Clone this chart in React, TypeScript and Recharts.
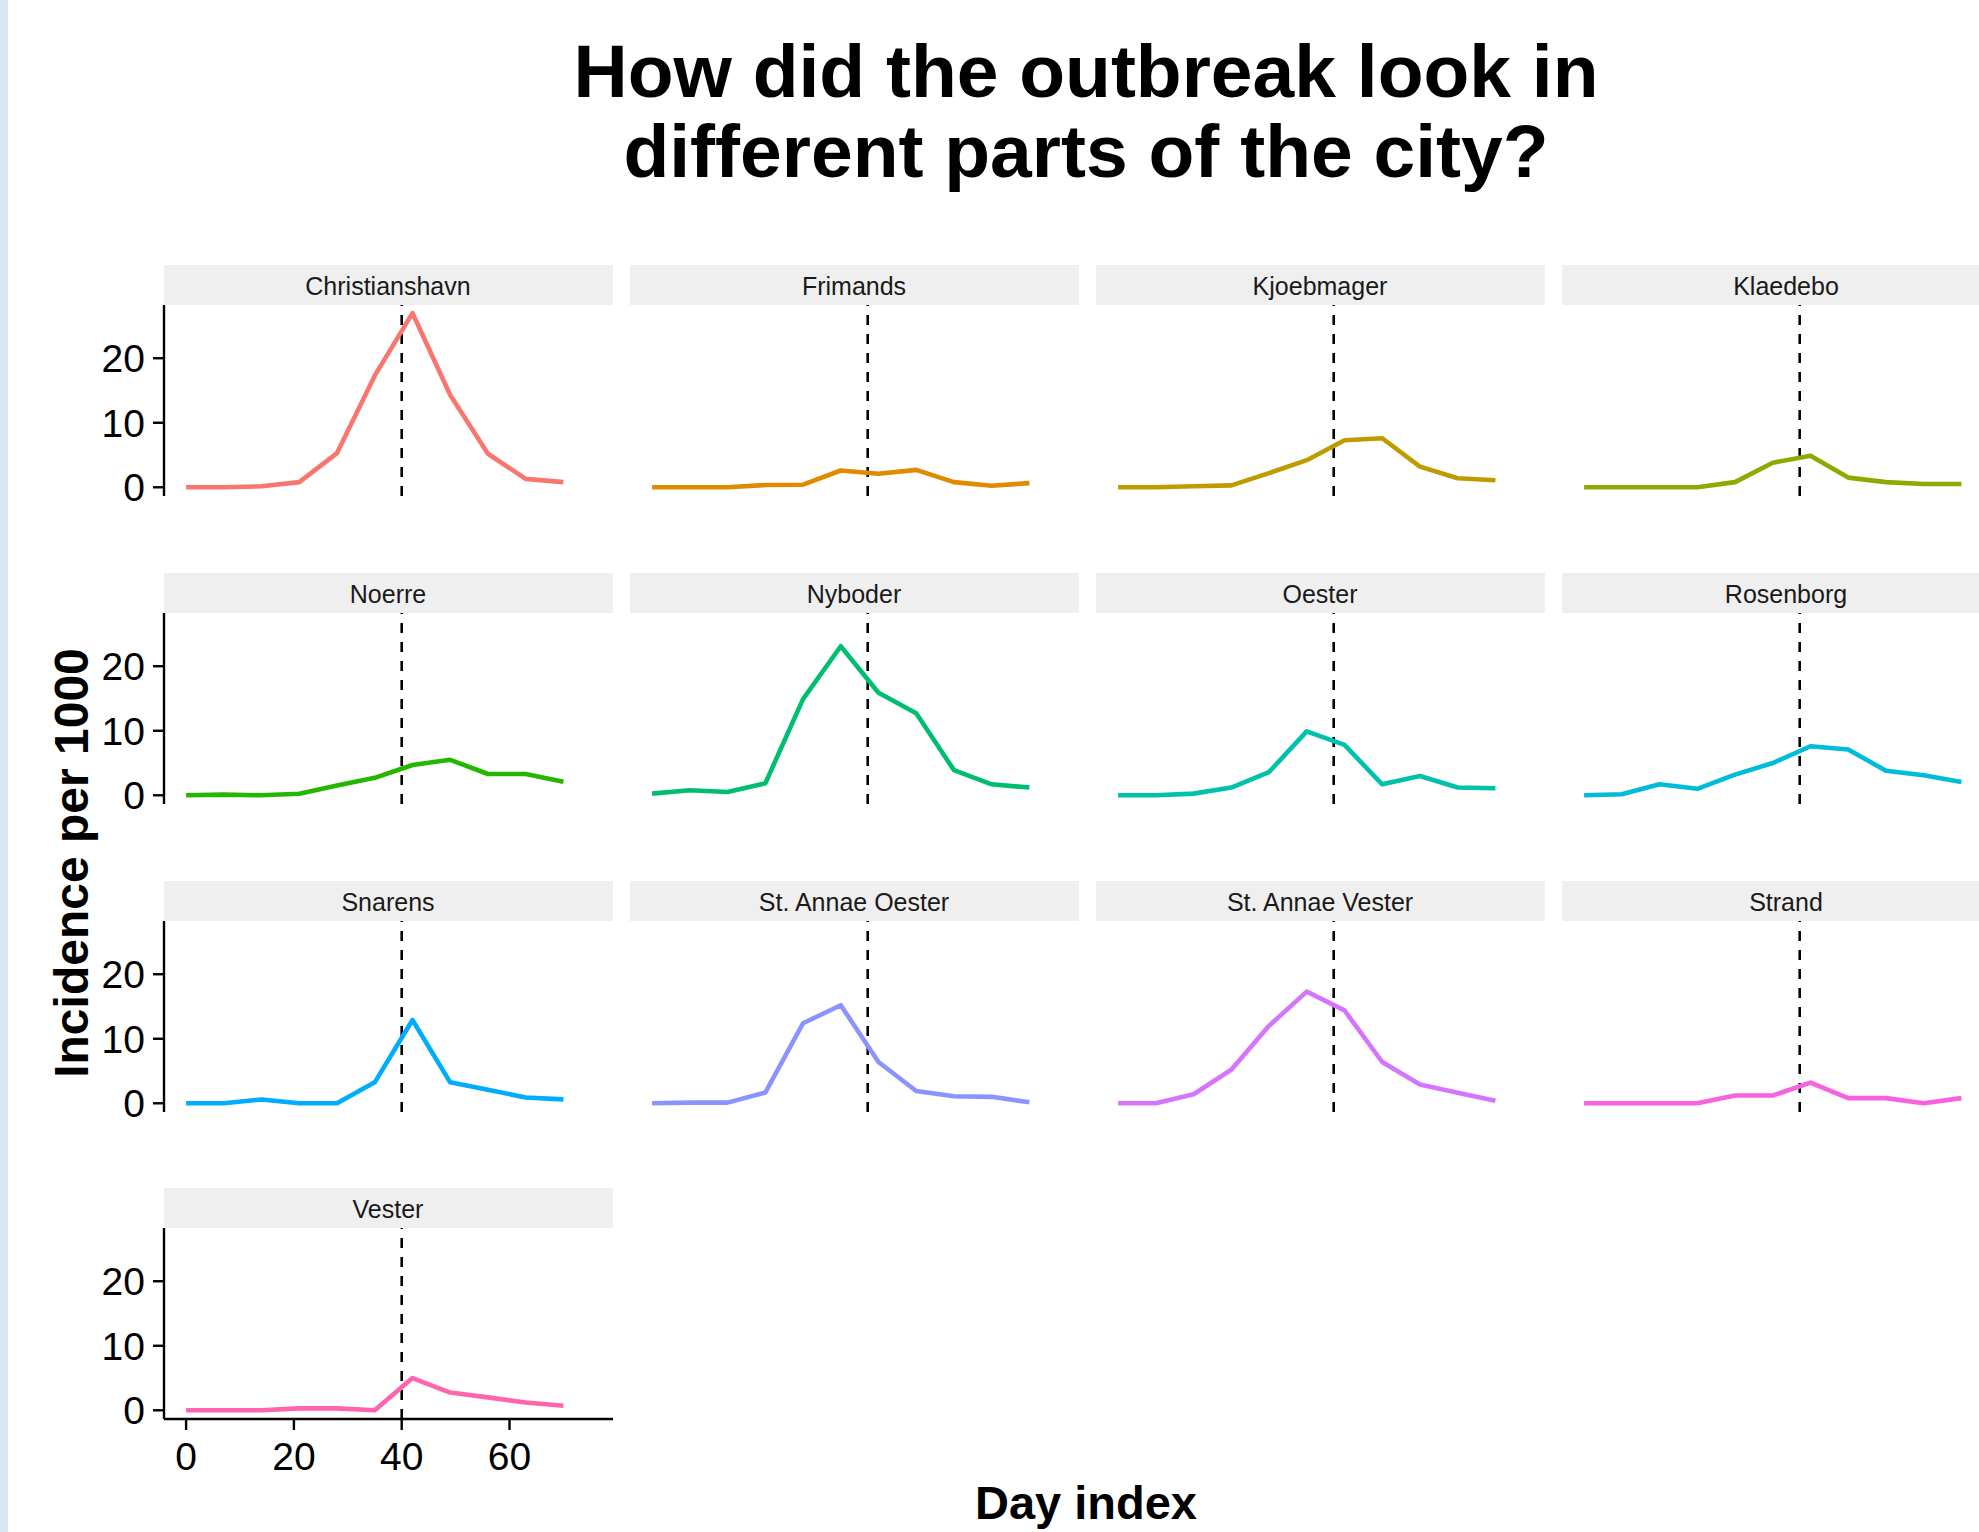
import { LineChart, Line, XAxis, YAxis, ReferenceLine } from "recharts";

// weekly day index
const days = [0, 7, 14, 21, 28, 35, 42, 49, 56, 63, 70];

const christianshavn = [0, 0, 0.15, 0.8, 5.3, 17.3, 27.0, 14.3, 5.2, 1.3, 0.8];
const frimands = [0, 0, 0, 0.35, 0.4, 2.6, 2.1, 2.7, 0.8, 0.25, 0.65];
const kjoebmager = [0, 0, 0.15, 0.3, 2.2, 4.2, 7.3, 7.6, 3.2, 1.4, 1.1];
const klaedebo = [0, 0, 0, 0, 0.8, 3.8, 4.9, 1.5, 0.8, 0.5, 0.5];
const noerre = [0, 0.1, 0, 0.25, 1.5, 2.7, 4.7, 5.5, 3.3, 3.3, 2.1];
const nyboder = [0.26, 0.77, 0.5, 1.85, 14.9, 23.1, 15.9, 12.7, 3.9, 1.7, 1.2];
const oester = [0, 0, 0.26, 1.2, 3.6, 9.9, 7.8, 1.7, 3.0, 1.2, 1.1];
const rosenborg = [0, 0.15, 1.7, 1.0, 3.2, 5.0, 7.6, 7.1, 3.8, 3.1, 2.05];
const snarens = [0, 0, 0.6, 0, 0, 3.25, 12.9, 3.25, 2.1, 0.9, 0.6];
const stAnnaeOester = [0, 0.1, 0.1, 1.65, 12.4, 15.2, 6.4, 1.9, 1.1, 1.0, 0.15];
const stAnnaeVester = [0, 0, 1.4, 5.2, 12.0, 17.3, 14.4, 6.4, 2.9, 1.65, 0.4];
const strand = [0, 0, 0, 0, 1.2, 1.2, 3.2, 0.8, 0.8, 0, 0.8];
const vester = [0, 0, 0, 0.3, 0.3, 0, 5.0, 2.75, 2.0, 1.2, 0.7];

const districts = [
  "Christianshavn",
  "Frimands",
  "Kjoebmager",
  "Klaedebo",
  "Noerre",
  "Nyboder",
  "Oester",
  "Rosenborg",
  "Snarens",
  "St. Annae Oester",
  "St. Annae Vester",
  "Strand",
  "Vester",
];

const series = [
  christianshavn,
  frimands,
  kjoebmager,
  klaedebo,
  noerre,
  nyboder,
  oester,
  rosenborg,
  snarens,
  stAnnaeOester,
  stAnnaeVester,
  strand,
  vester,
];

const colors = [
  "#F8766D",
  "#E18A00",
  "#BE9C00",
  "#8CAB00",
  "#24B700",
  "#00BE70",
  "#00C1AB",
  "#00BBDA",
  "#00ACFC",
  "#8B93FF",
  "#D575FE",
  "#F962DD",
  "#FF65AC",
];

const xTicks = [0, 20, 40, 60];
const yTicks = [0, 10, 20];
const outbreakDay = 40;

const FONT = "'Liberation Sans', Arial, Helvetica, sans-serif";

const PANEL_W = 449;
const PANEL_H = 191;
const STRIP_H = 40;

function Panel({ idx }: { idx: number }) {
  const col = idx % 4;
  const row = Math.floor(idx / 4);
  const left = 163.5 + col * 466;
  const stripTop = 265 + row * 307.8;
  const plotTop = stripTop + STRIP_H;
  const showY = col === 0;
  const showX = idx === districts.length - 1;
  const yW = showY ? 80 : 0;
  const xH = showX ? 60 : 0;
  // let the "0" label hang below the plot area when there is no x axis
  const padB = showY && !showX ? 30 : 0;
  const data = days.map((d, i) => ({ day: d, value: series[idx][i] }));

  return (
    <>
      <div
        style={{
          position: "absolute",
          left,
          top: stripTop,
          width: PANEL_W,
          height: STRIP_H,
          background: "#efefef",
          color: "#1a1a1a",
          fontFamily: FONT,
          fontSize: 25,
          lineHeight: `${STRIP_H + 3}px`,
          textAlign: "center",
        }}
      >
        {districts[idx]}
      </div>
      <div style={{ position: "absolute", left: left - yW, top: plotTop }}>
        <LineChart
          width={PANEL_W + yW}
          height={PANEL_H + xH + padB}
          data={data}
          margin={{ top: 0, right: 0, bottom: padB, left: 0 }}
          style={{ overflow: "visible" }}
        >
          <XAxis
            dataKey="day"
            type="number"
            domain={[-4.1, 79.2]}
            allowDataOverflow
            ticks={xTicks}
            interval={0}
            hide={!showX}
            height={xH}
            tickSize={11}
            tickMargin={12}
            axisLine={{ stroke: "#000", strokeWidth: 2.4 }}
            tickLine={{ stroke: "#000", strokeWidth: 2.4 }}
            tick={{ fill: "#000", fontSize: 39, fontFamily: FONT }}
          />
          <YAxis
            type="number"
            domain={[-1.35, 28.25]}
            allowDataOverflow
            ticks={yTicks}
            interval={0}
            hide={!showY}
            width={yW}
            tickSize={11}
            tickMargin={8}
            axisLine={{ stroke: "#000", strokeWidth: 2.4 }}
            tickLine={{ stroke: "#000", strokeWidth: 2.4 }}
            tick={{ fill: "#000", fontSize: 39, fontFamily: FONT }}
          />
          <ReferenceLine
            x={outbreakDay}
            stroke="#000"
            strokeWidth={2.6}
            strokeDasharray="10 9"
          />
          <Line
            dataKey="value"
            stroke={colors[idx]}
            strokeWidth={4.6}
            strokeLinejoin="round"
            dot={false}
            isAnimationActive={false}
          />
        </LineChart>
      </div>
    </>
  );
}

export default function App() {
  return (
    <div
      style={{
        position: "absolute",
        left: 0,
        top: 0,
        width: 1979,
        height: 1532,
        background: "#fff",
        overflow: "hidden",
        fontFamily: FONT,
      }}
    >
      <div
        style={{
          position: "absolute",
          left: 0,
          top: 0,
          width: 8,
          height: 1532,
          background: "#d9e5f2",
        }}
      />
      {districts.map((_, i) => (
        <Panel key={i} idx={i} />
      ))}
      <svg
        width={1979}
        height={1532}
        style={{ position: "absolute", left: 0, top: 0, pointerEvents: "none" }}
      >
        <text
          x={1086}
          y={97}
          textAnchor="middle"
          fontSize={75}
          fontWeight="bold"
          fontFamily={FONT}
          fill="#000"
        >
          How did the outbreak look in
        </text>
        <text
          x={1086}
          y={177}
          textAnchor="middle"
          fontSize={75}
          fontWeight="bold"
          fontFamily={FONT}
          fill="#000"
        >
          different parts of the city?
        </text>
        <text
          x={1086}
          y={1519}
          textAnchor="middle"
          fontSize={47}
          fontWeight="bold"
          fontFamily={FONT}
          fill="#000"
        >
          Day index
        </text>
        <text
          x={88}
          y={863}
          textAnchor="middle"
          fontSize={48}
          fontWeight="bold"
          fontFamily={FONT}
          fill="#000"
          transform="rotate(-90, 88, 863)"
        >
          Incidence per 1000
        </text>
      </svg>
    </div>
  );
}
